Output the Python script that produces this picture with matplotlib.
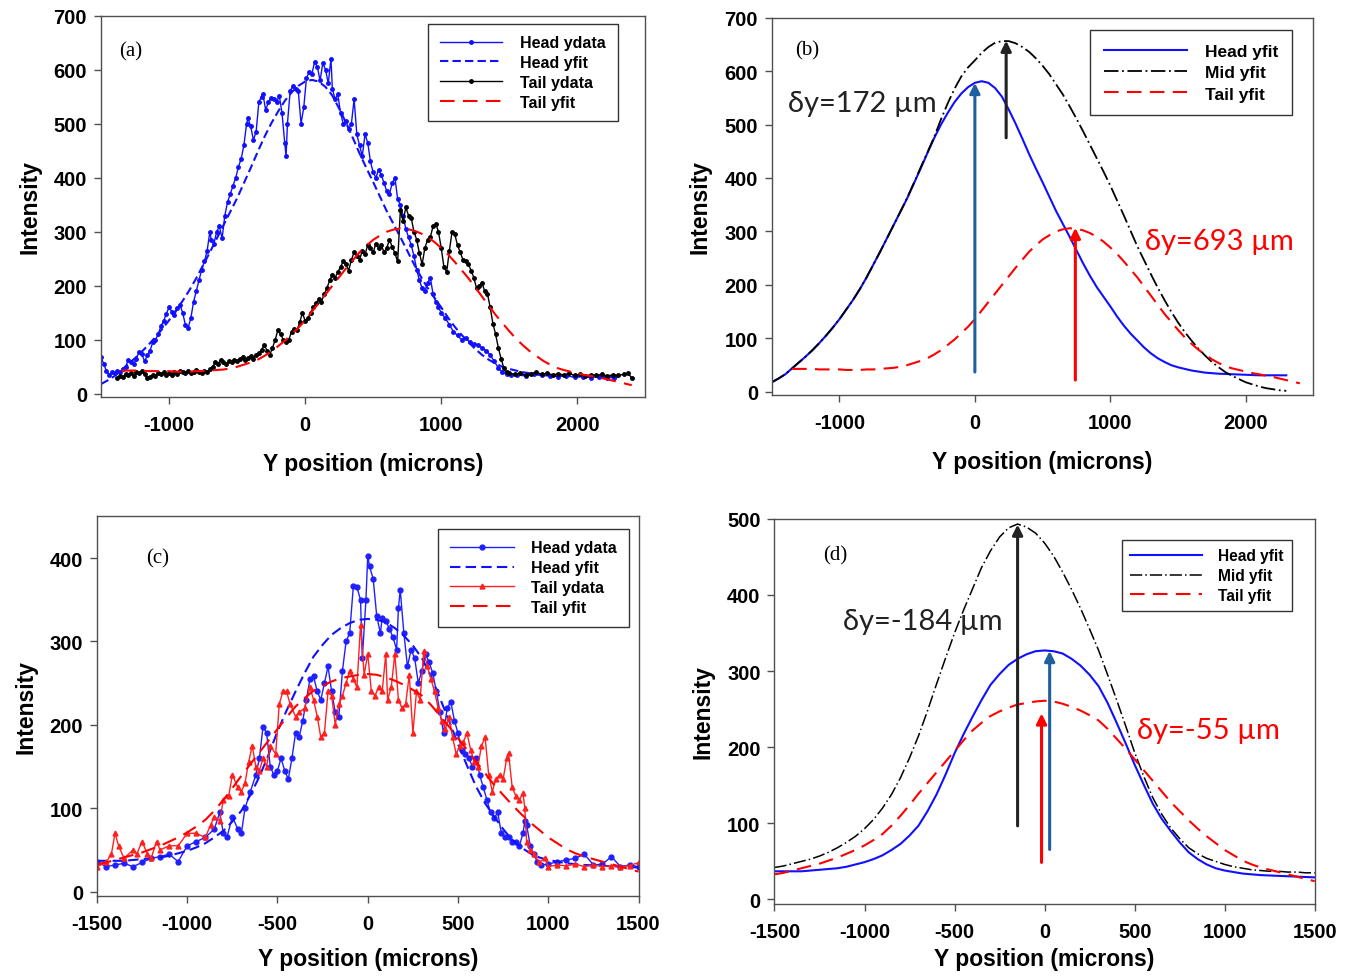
import matplotlib
matplotlib.use("Agg")
import matplotlib.pyplot as plt

plt.rcParams['font.family'] = ['Liberation Sans', 'DejaVu Sans']
plt.rcParams['axes.unicode_minus'] = False

# ---------------- panel (a) data ----------------
a_head_x = [-1500, -1480, -1460, -1440, -1420, -1400, -1380, -1360, -1340, -1320, -1300, -1280, -1260, -1240,
            -1220, -1200, -1180, -1160, -1140, -1120, -1100, -1080, -1060, -1040, -1020, -1000, -980, -960,
            -940, -920, -900, -880, -860, -840, -820, -800, -780, -760, -740, -720, -700, -690, -670, -650,
            -630, -610, -590, -570, -550, -530, -510, -490, -470, -450, -430, -420, -400, -380, -360, -340,
            -320, -310, -290, -270, -250, -230, -210, -190, -170, -150, -140, -130, -110, -90, -70, -50, -30,
            -10, 10, 30, 50, 70, 90, 110, 130, 150, 170, 190, 200, 220, 240, 260, 280, 300, 320, 340, 360,
            380, 400, 420, 440, 460, 480, 500, 520, 540, 560, 580, 600, 620, 640, 660, 680, 700, 720, 740,
            760, 780, 800, 820, 840, 860, 880, 900, 920, 940, 960, 980, 1000, 1030, 1060, 1090, 1120, 1150,
            1180, 1210, 1240, 1270, 1300, 1330, 1360, 1390, 1420, 1450, 1480, 1510, 1560, 1620, 1680, 1740,
            1800, 1860, 1920, 1980, 2040, 2100, 2160, 2220, 2270]
a_head_y = [68, 55, 42, 35, 40, 38, 42, 40, 45, 50, 62, 58, 55, 65,
            78, 74, 60, 71, 80, 95, 100, 110, 125, 135, 148, 160, 152, 145,
            158, 165, 150, 128, 122, 140, 170, 190, 210, 230, 245, 265, 300, 285, 278, 300,
            310, 288, 330, 355, 370, 385, 400, 420, 435, 460, 500, 510, 495, 470, 485, 540,
            550, 555, 525, 540, 548, 545, 540, 552, 520, 465, 440, 500, 560, 570, 565, 560, 500,
            530, 585, 595, 592, 615, 605, 580, 612, 600, 575, 620, 565, 545, 555, 520, 500, 505, 490, 500, 545,
            480, 460, 440, 480, 465, 430, 410, 400, 415, 405, 390, 375, 370, 390, 400, 360, 350, 330, 305,
            290, 275, 255, 230, 210, 195, 190, 205, 215, 185, 170, 160, 150, 140, 128, 115, 108, 100,
            104, 95, 92, 90, 85, 80, 72, 60, 48, 40, 36, 34, 35, 33, 36, 34,
            33, 32, 33, 31, 32, 30, 32, 30, 30]

a_tail_x = [-1380, -1360, -1340, -1320, -1300, -1280, -1260, -1240, -1220, -1200, -1180, -1160, -1140, -1120,
            -1100, -1080, -1060, -1040, -1020, -1000, -980, -960, -940, -920, -900, -880, -860, -840, -820,
            -800, -780, -760, -740, -720, -700, -680, -660, -640, -620, -600, -580, -560, -540, -520, -500,
            -480, -460, -440, -420, -400, -380, -360, -340, -320, -300, -280, -260, -240, -220, -200, -180,
            -160, -140, -120, -100, -80, -60, -40, -20, 0, 20, 40, 60, 80, 100, 120, 140, 160, 180, 200,
            220, 240, 260, 280, 300, 320, 340, 360, 380, 400, 420, 440, 460, 480, 500, 520, 540, 560, 580,
            600, 620, 640, 660, 680, 700, 720, 740, 760, 780, 800, 820, 840, 860, 880, 900, 920, 940, 960,
            980, 1000, 1020, 1040, 1060, 1080, 1100, 1120, 1140, 1160, 1180, 1200, 1220, 1240, 1260, 1280,
            1300, 1320, 1340, 1360, 1380, 1400, 1420, 1440, 1460, 1480, 1500, 1540, 1580, 1620, 1660, 1700,
            1740, 1780, 1820, 1860, 1900, 1940, 1980, 2020, 2060, 2100, 2140, 2180, 2220, 2260, 2300, 2340,
            2370, 2400]
a_tail_y = [30, 33, 31, 36, 34, 38, 33, 40, 38, 42, 36, 30, 32, 35,
            33, 38, 36, 40, 35, 38, 34, 40, 37, 42, 40, 38, 42, 38, 40,
            44, 41, 39, 42, 40, 45, 50, 58, 55, 63, 58, 55, 60, 58, 62, 60,
            65, 68, 63, 66, 70, 65, 72, 75, 82, 90, 80, 72, 85, 100, 118, 110,
            100, 95, 100, 115, 120, 118, 132, 150, 135, 140, 150, 160, 168, 175, 170, 185, 195, 210, 220,
            215, 225, 235, 245, 240, 228, 248, 262, 255, 248, 265, 258, 275, 270, 262, 278, 270, 275, 262,
            270, 285, 272, 260, 245, 340, 320, 345, 330, 325, 300, 285, 260, 240, 270, 285, 290, 310, 315,
            300, 270, 235, 225, 265, 300, 295, 275, 262, 248, 245, 240, 228, 215, 195, 200,
            205, 190, 185, 160, 130, 110, 85, 65, 48, 40, 38, 36, 38, 35, 37, 40,
            36, 38, 35, 37, 35, 38, 34, 36, 33, 35, 34, 36, 33, 35, 34, 36,
            38, 30]

# ---------------- fits used in (a) and (b), sampled every 50 microns ----------------
ab_fit_x = list(range(-1500, 2301, 50))
ab_head_fit_y = [18, 25, 33, 44, 55, 66, 78, 91, 105, 120, 136, 154, 172, 192, 214, 238, 262, 287, 312, 337,
                 362, 390, 418, 447, 475, 500, 522, 542, 558, 570, 578, 581, 578, 568, 552, 528, 502, 474, 445,
                 418, 392, 365, 338, 314, 290, 265, 240, 217, 196, 178, 160, 141, 124, 109, 96, 83, 72, 63, 56,
                 50, 46, 43, 40, 38, 36, 35, 34, 33.5, 33, 32.5, 32, 31.5, 31, 31, 31, 31, 31]
b_mid_fit_y = [18, 25, 33, 44, 55, 66, 78, 91, 105, 120, 136, 154, 172, 192, 214, 238, 262, 287, 312, 337,
               363, 391, 420, 448, 477, 510, 540, 567, 590, 607, 620, 634, 645, 653, 656, 656, 652, 645, 636,
               624, 610, 594, 575, 556, 534, 511, 487, 462, 437, 412, 386, 358, 330, 301, 272, 246, 220, 195,
               172, 150, 130, 112, 96, 81, 68, 56, 46, 37, 30, 24, 18, 14, 10, 7, 5, 3, 2]
ab_tail_fit_x = list(range(-1350, 2401, 50))
ab_tail_fit_y = [43, 43, 43, 43, 42, 42, 42, 42, 41, 41, 41, 42, 42, 43, 44, 45, 47, 50, 54, 58, 63, 70, 78, 88,
                 98, 110, 122, 136, 152, 168, 184, 200, 216, 232, 247, 262, 274, 285, 293, 300, 304, 306, 305,
                 302, 297, 290, 281, 270, 258, 244, 229, 214, 197, 180, 163, 146, 131, 116, 102, 90, 79, 70,
                 61, 54, 48, 44, 41, 38, 35, 33, 30, 28, 25, 22, 19, 16]

# ---------------- panel (c) data ----------------
c_head_x = [-1500, -1450, -1400, -1350, -1300, -1250, -1200, -1150, -1100, -1050, -1000, -950, -900, -850,
            -820, -800, -780, -750, -720, -700, -680, -650, -620, -600, -580, -560, -540, -520, -500, -480,
            -460, -440, -420, -400, -380, -360, -340, -320, -300, -280, -260, -240, -220, -200, -180, -160,
            -140, -120, -100, -80, -60, -40, -30, -10, 0, 10, 30, 50, 70, 80, 100, 120, 140, 160, 170, 180,
            200, 220, 240, 260, 280, 300, 320, 340, 360, 380, 400, 420, 440, 460, 480, 500, 520, 540, 560,
            580, 600, 620, 640, 660, 680, 700, 720, 740, 760, 780, 800, 820, 840, 860, 870, 880, 900, 920,
            940, 960, 1000, 1050, 1100, 1150, 1200, 1250, 1300, 1350, 1400, 1450, 1500]
c_head_y = [36, 30, 32, 34, 30, 35, 40, 42, 45, 36, 55, 60, 65, 75,
            95, 70, 65, 90, 75, 70, 100, 120, 140, 160, 198, 190, 150, 140, 145, 160,
            145, 135, 160, 190, 185, 205, 230, 255, 258, 240, 230, 250, 270, 240, 215, 210,
            265, 300, 310, 366, 365, 350, 280, 350, 403, 390, 375, 330, 310, 328, 325, 315, 305, 290, 340, 362,
            310, 270, 290, 280, 250, 265, 285, 275, 262, 240, 215, 190, 220, 228, 205, 190, 170, 165, 160,
            150, 160, 140, 125, 110, 95, 88, 95, 70, 65, 65, 60, 60, 55, 70, 85, 80, 55, 45,
            35, 32, 33, 36, 38, 40, 45, 32, 33, 42, 30, 32, 30]

c_tail_x = [-1500, -1450, -1420, -1400, -1380, -1350, -1300, -1280, -1250, -1220, -1200, -1170, -1150, -1100,
            -1050, -1000, -950, -900, -870, -850, -820, -800, -770, -750, -720, -700, -680, -660, -640, -620,
            -600, -580, -560, -540, -510, -490, -470, -450, -430, -400, -380, -350, -320, -300, -280, -260,
            -240, -220, -200, -180, -160, -140, -120, -100, -80, -60, -40, -20, 0, 20, 40, 60, 80, 100, 110,
            130, 150, 170, 190, 210, 230, 250, 270, 290, 310, 330, 350, 370, 390, 410, 430, 450, 470, 490,
            510, 530, 550, 570, 590, 610, 630, 650, 670, 690, 710, 730, 750, 770, 780, 800, 820, 840, 860,
            870, 880, 900, 920, 950, 980, 1000, 1050, 1100, 1150, 1200, 1250, 1300, 1350, 1400, 1450, 1500]
c_tail_y = [30, 35, 45, 70, 55, 40, 50, 45, 60, 45, 40, 60, 50, 55,
            55, 70, 70, 65, 80, 90, 85, 110, 115, 140, 125, 120, 130, 155, 175, 150,
            145, 160, 150, 175, 165, 225, 240, 240, 225, 210, 215, 220, 245, 230, 210, 185,
            190, 240, 235, 200, 225, 235, 250, 265, 255, 245, 320, 260, 285, 240, 235, 245, 240, 285, 230,
            245, 285, 230, 220, 225, 260, 190, 240, 230, 288, 270, 255, 240, 220, 205, 195, 210, 185, 165,
            175, 180, 190, 170, 155, 150, 175, 185, 140, 120, 135, 140, 135, 160, 166, 125, 115, 110, 118,
            100, 60, 50, 45, 35, 40, 30, 32, 31, 33, 30, 32, 30, 31, 30, 31, 35]

# ---------------- fits used in (c) and (d), sampled every 50 microns ----------------
cd_fit_x = list(range(-1500, 1501, 50))
cd_head_fit_y = [37, 37, 37, 37, 38, 39, 40, 41, 43, 46, 49, 53, 58, 65, 73, 84, 97, 116, 138, 164, 192, 217,
                 240, 262, 282, 296, 308, 316, 322, 326, 327, 326, 323, 316, 307, 295, 280, 258, 232, 205, 177,
                 151, 126, 106, 90, 75, 62, 53, 46, 41, 38, 36, 34, 33, 32, 31.5, 31, 30.5, 30, 29.5, 29]
cd_tail_fit_y = [33, 35, 38, 41, 44, 47, 51, 55, 60, 65, 71, 78, 86, 97, 110, 124, 139, 153, 167, 181, 195, 209,
                 222, 232, 241, 247, 252, 256, 258, 260, 261, 260, 257, 253, 248, 242, 235, 224, 211, 198, 184,
                 170, 156, 142, 128, 116, 104, 93, 83, 74, 65, 58, 51, 46, 42, 39, 36, 33, 30, 27, 24]
d_mid_fit_y = [42, 44, 47, 50, 53, 57, 62, 68, 75, 83, 93, 105, 120, 138, 160, 186, 215, 248, 283, 317, 350, 380,
               408, 436, 458, 476, 488, 493, 489, 481, 468, 451, 430, 407, 382, 355, 327, 295, 262, 228, 193,
               162, 134, 112, 94, 80, 68, 60, 54, 50, 46, 43, 41, 39, 38, 37, 37, 36, 36, 35, 35]

ticks_ab = [-1000, 0, 1000, 2000]
ticks_cd = [-1500, -1000, -500, 0, 500, 1000, 1500]

fig = plt.figure(figsize=(13.54, 9.78), dpi=100)
ax_a = fig.add_axes([0.0746, 0.593, 0.402, 0.390])
ax_b = fig.add_axes([0.570, 0.595, 0.400, 0.386])
ax_c = fig.add_axes([0.0716, 0.083, 0.400, 0.388])
ax_d = fig.add_axes([0.572, 0.0746, 0.399, 0.394])


def style(ax, xlim, ylim, xticks, yticks, xpad=13):
    ax.set_xlim(*xlim)
    ax.set_ylim(*ylim)
    ax.set_xticks(xticks)
    ax.set_yticks(yticks)
    for s in ax.spines.values():
        s.set_color('#505050')
        s.set_linewidth(1.0)
    ax.tick_params(direction='out', length=5, width=1, labelsize=14.5, color='#505050')
    ax.tick_params(axis='x', pad=8)
    ax.tick_params(axis='y', pad=5)
    for lab in ax.get_xticklabels() + ax.get_yticklabels():
        lab.set_fontweight('bold')
    ax.set_xlabel('Y position (microns)', fontsize=16.5, fontweight='bold', labelpad=xpad)
    ax.set_ylabel('Intensity', fontsize=16.5, fontweight='bold', labelpad=9)


def legend(ax, anchor, size, hlen, tpad, lspace, bpad):
    leg = ax.legend(loc='upper left', bbox_to_anchor=anchor, prop={'weight': 'bold', 'size': size},
                    frameon=True, fancybox=False, edgecolor='black', handlelength=hlen,
                    handletextpad=tpad, labelspacing=lspace, borderpad=bpad, borderaxespad=0)
    leg.get_frame().set_linewidth(1.0)


# (a)
ax_a.plot(a_head_x, a_head_y, '-', color='#1010ff', lw=1.0, marker='o', ms=2.5, label='Head ydata')
ax_a.plot(ab_fit_x, ab_head_fit_y, color='#1010ff', lw=1.5, ls=(0, (4, 2)), label='Head yfit')
ax_a.plot(a_tail_x, a_tail_y, '-', color='black', lw=1.0, marker='o', ms=2.5, label='Tail ydata')
ax_a.plot(ab_tail_fit_x, ab_tail_fit_y, color='red', lw=1.5, ls=(0, (7, 4)), label='Tail yfit')
style(ax_a, (-1500, 2500), (-6, 700), ticks_ab, range(0, 701, 100))
legend(ax_a, (0.601, 0.979), 11.5, 3.9, 1.15, 0.3, 0.72)
ax_a.text(-1370, 635, '(a)', family='Liberation Serif', fontsize=15, va='center')

# (b)
ax_b.plot(ab_fit_x, ab_head_fit_y, color='#1010ff', lw=1.5, label='Head yfit')
ax_b.plot(ab_fit_x, b_mid_fit_y, color='black', lw=1.3, ls=(0, (8, 2, 1, 2)), label='Mid yfit')
ax_b.plot(ab_tail_fit_x, ab_tail_fit_y, color='red', lw=1.5, ls=(0, (7, 4)), label='Tail yfit')
style(ax_b, (-1500, 2500), (-6, 700), ticks_ab, range(0, 701, 100))
legend(ax_b, (0.588, 0.968), 12.5, 4.8, 1.0, 0.36, 0.8)
ax_b.text(-1330, 640, '(b)', family='Liberation Serif', fontsize=15, va='center')
ax_b.annotate('', xy=(0, 583), xytext=(0, 32),
              arrowprops=dict(arrowstyle='-|>', color='#1f5fa0', lw=2.2, mutation_scale=15))
ax_b.annotate('', xy=(231, 662), xytext=(231, 470),
              arrowprops=dict(arrowstyle='-|>', color='#222222', lw=2.2, mutation_scale=15))
ax_b.annotate('', xy=(742, 312), xytext=(742, 17),
              arrowprops=dict(arrowstyle='-|>', color='red', lw=2.2, mutation_scale=15))
ax_b.text(-1383, 540, 'δy=172 µm', family=['Lato', 'DejaVu Sans'], fontsize=21, va='center', color='#222222')
ax_b.text(1257, 283, 'δy=693 µm', family=['Lato', 'DejaVu Sans'], fontsize=21, va='center', color='red')

# (c)
ax_c.plot(c_head_x, c_head_y, '-', color='#2020ff', lw=1.0, marker='o', ms=3.5, label='Head ydata')
ax_c.plot(cd_fit_x, cd_head_fit_y, color='#1010ff', lw=1.5, ls=(0, (5, 2.5)), label='Head yfit')
ax_c.plot(c_tail_x, c_tail_y, '-', color='#ff2020', lw=1.0, marker='^', ms=3.5, label='Tail ydata')
ax_c.plot(cd_fit_x, cd_tail_fit_y, color='red', lw=1.5, ls=(0, (7, 4)), label='Tail yfit')
style(ax_c, (-1500, 1500), (-5, 450), ticks_cd, range(0, 401, 100), xpad=10)
legend(ax_c, (0.630, 0.968), 11.5, 4.0, 1.05, 0.3, 0.75)
ax_c.text(-1230, 400, '(c)', family='Liberation Serif', fontsize=15, va='center')

# (d)
ax_d.plot(cd_fit_x, cd_head_fit_y, color='#1010ff', lw=1.5, label='Head yfit')
ax_d.plot(cd_fit_x, d_mid_fit_y, color='black', lw=1.1, ls=(0, (8, 2, 1, 2)), label='Mid yfit')
ax_d.plot(cd_fit_x, cd_tail_fit_y, color='red', lw=1.5, ls=(0, (7, 4)), label='Tail yfit')
style(ax_d, (-1500, 1500), (-6, 500), ticks_cd, range(0, 501, 100), xpad=4)
legend(ax_d, (0.643, 0.945), 11.2, 4.6, 1.0, 0.3, 0.55)
ax_d.text(-1230, 452, '(d)', family='Liberation Serif', fontsize=15, va='center')
ax_d.annotate('', xy=(-150, 496), xytext=(-150, 93),
              arrowprops=dict(arrowstyle='-|>', color='#222222', lw=2.2, mutation_scale=15))
ax_d.annotate('', xy=(28, 330), xytext=(28, 62),
              arrowprops=dict(arrowstyle='-|>', color='#1f5fa0', lw=2.2, mutation_scale=15))
ax_d.annotate('', xy=(-17, 248), xytext=(-17, 45),
              arrowprops=dict(arrowstyle='-|>', color='red', lw=2.2, mutation_scale=15))
ax_d.text(-1122, 366, 'δy=-184 µm', family=['Lato', 'DejaVu Sans'], fontsize=21, va='center', color='#222222')
ax_d.text(511, 222, 'δy=-55 µm', family=['Lato', 'DejaVu Sans'], fontsize=21, va='center', color='red')

fig.savefig('out.png', dpi=100)
